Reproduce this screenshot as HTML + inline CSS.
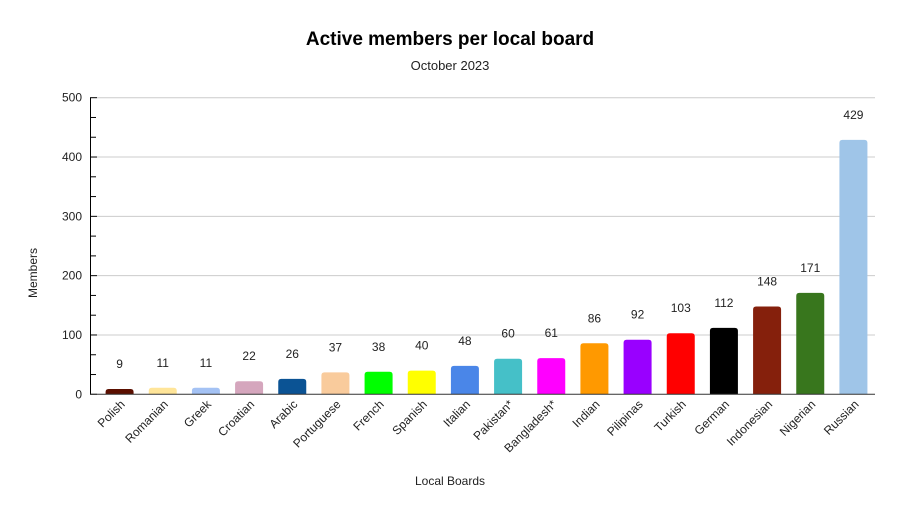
<!DOCTYPE html>
<html><head><meta charset="utf-8"><style>
body{margin:0;background:#fff;}
svg{display:block;font-family:"Liberation Sans",Arial,sans-serif;}
</style></head><body>
<svg id="chart" width="900" height="514">
<rect width="900" height="514" fill="#fff"/>
<text x="450" y="45" text-anchor="middle" font-size="19" font-weight="bold" fill="#000">Active members per local board</text>
<text x="450" y="70" text-anchor="middle" font-size="13" fill="#222">October 2023</text>
<text x="450" y="485" text-anchor="middle" font-size="12" fill="#222">Local Boards</text>
<text transform="translate(37,273) rotate(-90)" text-anchor="middle" font-size="12" fill="#222">Members</text>
<g id="grid"></g><g id="bars"></g><g id="axes"></g>
</svg>
<script>
const categories=["Polish","Romanian","Greek","Croatian","Arabic","Portuguese","French","Spanish","Italian","Pakistan*","Bangladesh*","Indian","Pilipinas","Turkish","German","Indonesian","Nigerian","Russian"];
const values=[9,11,11,22,26,37,38,40,48,60,61,86,92,103,112,148,171,429];
const colors=["#5b0f00","#ffe599","#a4c2f4","#d5a6bd","#0b5394","#f9cb9c","#00ff00","#ffff00","#4a86e8","#45c0c8","#ff00ff","#ff9900","#9900ff","#ff0000","#000000","#85200c","#38761d","#9fc5e8"];
const yTicks=[0,100,200,300,400,500];
const NS="http://www.w3.org/2000/svg";
const X0=98,X1=875,Y0=394.3,Y1=97.7,YMAX=500;
const y=v=>Y0-(v/YMAX)*(Y0-Y1);
const step=(X1-X0)/categories.length;
const xc=i=>X0+step*(i+0.5);
function mk(t,a,p){const e=document.createElementNS(NS,t);for(const k in a)e.setAttribute(k,a[k]);p.appendChild(e);return e;}
const grid=document.getElementById('grid'),bars=document.getElementById('bars'),axes=document.getElementById('axes');
yTicks.forEach(t=>{
 if(t>0){const g=mk('line',{x1:97,x2:X1,y1:y(t),y2:y(t),stroke:'#ccc','stroke-width':1},grid);
 
 }
 const tk=mk('line',{x1:90,x2:97,y1:y(t),y2:y(t),stroke:'#000','stroke-width':1},axes);
 
 
 const lb=mk('text',{x:82,y:y(t)+4,'text-anchor':'end','font-size':12,fill:'#222'},axes);
 lb.textContent=t;
 
 
});
for(let t=0;t<YMAX;t+=100){[1,2].forEach(k=>{const v=t+k*100/3;
 const m=mk('line',{x1:91,x2:96,y1:y(v),y2:y(v),stroke:'#000','stroke-width':1},axes);
 
 });}
mk('line',{x1:90.5,x2:90.5,y1:Y1,y2:Y0,stroke:'#000','stroke-width':1},axes);
mk('line',{x1:90,x2:X1,y1:Y0,y2:Y0,stroke:'#333','stroke-width':1},axes);
const bw=28,r=3;
categories.forEach((c,i)=>{
 const top=y(values[i]),h=Y0-top,x=xc(i)-bw/2;
 const rr=Math.min(r,h);
 const p=mk('path',{d:`M${x},${Y0}V${top+rr}Q${x},${top} ${x+rr},${top}H${x+bw-rr}Q${x+bw},${top} ${x+bw},${top+rr}V${Y0}Z`,fill:colors[i]},bars);
 
 
 const vl=mk('text',{x:xc(i),y:top-21,'text-anchor':'middle','font-size':12,fill:'#222'},bars);
 vl.textContent=values[i];
 
 
 const xl=mk('text',{transform:`translate(${xc(i)+6},${405}) rotate(-45)`,'text-anchor':'end','font-size':12,fill:'#222'},axes);
 xl.textContent=c;
 
 
});
</script>
</body></html>
